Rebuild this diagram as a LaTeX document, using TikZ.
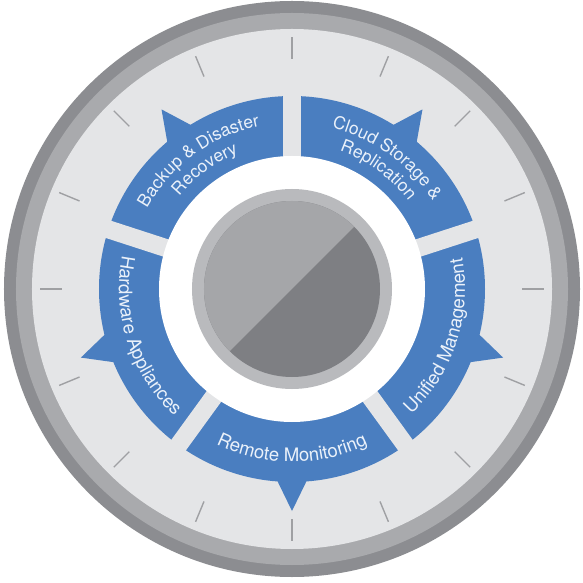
\documentclass[tikz,border=0pt]{standalone}
\usepackage{fontspec}
\usepackage{xcolor}
\usepackage{tikz}
\usetikzlibrary{decorations.text}
\newfontfamily\wheelfacefont{TeX Gyre Heros}
\newcommand\wheelfont{\wheelfacefont\fontsize{17.5}{21}\selectfont}
\newcommand\wheelfontin{\wheelfacefont\fontsize{18.6}{22}\selectfont}
\definecolor{whRim}{HTML}{8C8D91}
\definecolor{whBezel}{HTML}{A9AAAD}
\definecolor{whFace}{HTML}{E4E5E7}
\definecolor{whTick}{HTML}{9FA0A3}
\definecolor{whBlue}{HTML}{4A7EC0}
\definecolor{whText}{HTML}{EAF1FA}
\definecolor{whHub}{HTML}{B9BABD}
\definecolor{whHubLight}{HTML}{A5A6A9}
\definecolor{whHubDark}{HTML}{7E7F83}
\tikzset{
  % Dial ticks
  dialtick/.style={draw=whTick,line width=1.4pt},
  % Blue ring with arrow spikes
  seg/.style={fill=whBlue,draw=none},
  % Gaps between the segments
  gap/.style={draw=whFace,line width=18pt},
  % Curved labels
  lbl/.style={decorate,decoration={text along path,text align=center,
    text color=whText}},
}

\begin{document}
\begin{tikzpicture}[x=1pt,y=1pt]
  \useasboundingbox (-292,-294) rectangle (291,289);

  % bezel
  \fill[whRim] (0,0) circle (288);
  \fill[whBezel] (0,0) circle (276);
  \fill[whFace] (0,0) circle (260);

  \foreach \a in {0,22.5,...,337.5}
    \draw[dialtick] (\a:230) -- (\a:252);

  % segments
  \fill[seg] (0,0) circle (193);
  \foreach \a in {54,126,198,270,342}
    \fill[seg] (\a:222) -- (\a+4.8:190) -- (\a-4.8:190) -- cycle;
  \foreach \a in {18,90,162,234,306}
    \draw[gap] (\a:120) -- (\a:200);

  % hub
  \fill[white] (0,0) circle (133);
  \fill[whHub] (0,0) circle (100);
  \fill[whHubDark] (0,0) circle (88);
  \fill[whHubLight] (45:88) arc[start angle=45,end angle=225,radius=88] -- cycle;

  % labels
  \path[lbl,decoration={text={|\wheelfont|Backup {\&} Disaster}}]
    (166:166) arc[start angle=166,end angle=86,radius=166];
  \path[lbl,decoration={text={|\wheelfont|Recovery}}]
    (166:146) arc[start angle=166,end angle=86,radius=146];
  \path[lbl,decoration={text={|\wheelfont|Cloud Storage {\&}}}]
    (94:166) arc[start angle=94,end angle=14,radius=166];
  \path[lbl,decoration={text={|\wheelfont|Replication}}]
    (94:146) arc[start angle=94,end angle=14,radius=146];
  \path[lbl,decoration={text={|\wheelfontin|Hardware Appliances}}]
    (158:173) arc[start angle=158,end angle=238,radius=173];
  \path[lbl,decoration={text={|\wheelfontin|Remote Monitoring}}]
    (230:173) arc[start angle=230,end angle=310,radius=173];
  \path[lbl,decoration={text={|\wheelfontin|Unified Management}}]
    (302:173) arc[start angle=302,end angle=382,radius=173];
\end{tikzpicture}
\end{document}
